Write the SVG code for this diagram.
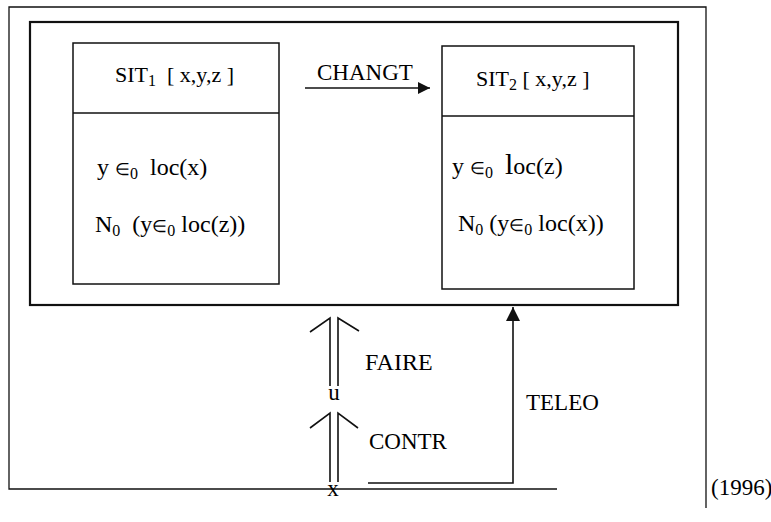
<svg xmlns="http://www.w3.org/2000/svg" width="771" height="522" viewBox="0 0 771 522">
<style>
text{font-family:"Liberation Serif","Times New Roman",serif;font-size:23px;fill:#000;white-space:pre}
.t{font-size:22px}
.b{font-size:24px}
.sub{font-size:16px}
.el{font-size:17px}
.box{fill:none;stroke:#111;stroke-width:1.5}
.ln{fill:none;stroke:#111;stroke-width:1.6}
</style>
<defs>
<marker id="ah" viewBox="0 0 12 12" refX="12" refY="6" markerWidth="12" markerHeight="12" markerUnits="userSpaceOnUse" orient="auto">
<path d="M0,0 L12,6 L0,12 Z" fill="#111"/>
</marker>
<marker id="ahl" viewBox="0 0 14 14" refX="14" refY="7" markerWidth="14" markerHeight="14" markerUnits="userSpaceOnUse" orient="auto">
<path d="M0,0 L14,7 L0,14 Z" fill="#111"/>
</marker>
</defs>
<rect width="771" height="522" fill="#fff"/>
<g id="outer-frame">
<path class="ln" style="stroke-width:1.3" d="M557,489 L9,489 L9,7 L706,7 L706,508"/>
</g>
<g id="inner-frame">
<rect x="30" y="22" width="648" height="283" fill="none" stroke="#111" stroke-width="2.2"/>
</g>
<g id="sit1">
<rect class="box" x="73" y="43" width="206" height="241"/>
<line class="box" x1="73" y1="113" x2="279" y2="113"/>
<text class="t" x="115" y="82">SIT<tspan class="sub" dy="4">1</tspan><tspan dy="-4">  [ x,y,z ]</tspan></text>
<text class="b" x="97" y="175">y <tspan class="el">∈</tspan><tspan class="sub" dy="4">0</tspan><tspan dy="-4">  loc(x)</tspan></text>
<text class="b" x="95" y="232">N<tspan class="sub" dy="4">0</tspan><tspan dy="-4">  (y</tspan><tspan class="el">∈</tspan><tspan class="sub" dy="4">0</tspan><tspan dy="-4"> loc(z))</tspan></text>
</g>
<g id="sit2">
<rect class="box" x="442" y="46" width="192" height="243"/>
<line class="box" x1="442" y1="116" x2="634" y2="116"/>
<text class="t" x="476" y="86">SIT<tspan class="sub" dy="4">2</tspan><tspan dy="-4"> [ x,y,z ]</tspan></text>
<text class="b" x="452" y="174">y <tspan class="el">∈</tspan><tspan class="sub" dy="4">0</tspan><tspan dy="-4">  </tspan><tspan font-size="30">l</tspan>oc(z)</text>
<text class="b" x="458" y="231">N<tspan class="sub" dy="4">0</tspan><tspan dy="-4"> (y</tspan><tspan class="el">∈</tspan><tspan class="sub" dy="4">0</tspan><tspan dy="-4"> loc(x))</tspan></text>
</g>
<g id="connectors">
<line class="ln" x1="305" y1="88" x2="430" y2="88" marker-end="url(#ah)"/>
<path class="ln" d="M310,332 L330,318 L330,386 M359,331 L338,318 L338,386"/>
<path class="ln" d="M310,428 L330,413 L330,482 M358,428 L338,413 L338,482"/>
<path class="ln" d="M368,483 L513,483 L513,307" marker-end="url(#ahl)"/>
</g>
<g id="labels">
<text x="317" y="80">CHANGT</text>
<text class="b" x="365" y="370">FAIRE</text>
<text x="334" y="400" text-anchor="middle" font-size="20">u</text>
<text x="369" y="449">CONTR</text>
<text x="333" y="496" text-anchor="middle" font-size="20">x</text>
<text x="526" y="410">TELEO</text>
<text x="711" y="495" font-size="20">(1996)</text>
</g>
</svg>
